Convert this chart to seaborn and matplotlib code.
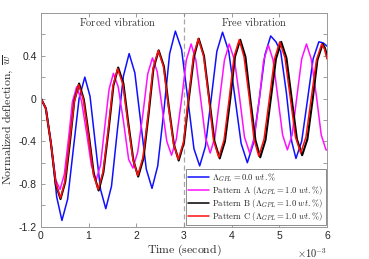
import numpy as np
import pandas as pd
import matplotlib
matplotlib.use("Agg")
import matplotlib.pyplot as plt
import seaborn as sns

# ---- data (time in units of 1e-3 s) ----
t_blue = [0, 0.11, 0.22, 0.33, 0.44, 0.56, 0.68, 0.80, 0.92, 1.03, 1.14, 1.25, 1.36, 1.48, 1.60, 1.73,
          1.85, 1.97, 2.09, 2.21, 2.33, 2.45, 2.58, 2.70, 2.82, 2.95, 3.08, 3.21, 3.33, 3.45, 3.57, 3.69,
          3.81, 3.94, 4.07, 4.20, 4.33, 4.45, 4.58, 4.70, 4.82, 4.93, 5.03, 5.15, 5.26, 5.35, 5.47, 5.59,
          5.71, 5.83, 5.92, 6.00]
w_blue = [0, -0.10, -0.45, -0.92, -1.14, -0.94, -0.47, 0.00, 0.20, 0.02, -0.42, -0.85, -1.03, -0.82, -0.31, 0.21,
          0.42, 0.24, -0.21, -0.66, -0.84, -0.63, -0.11, 0.42, 0.63, 0.46, 0.00, -0.47, -0.63, -0.45, -0.01, 0.44,
          0.62, 0.44, 0.01, -0.42, -0.60, -0.43, -0.01, 0.41, 0.585, 0.53, 0.44, 0.05, -0.40, -0.56, -0.40, -0.02,
          0.37, 0.53, 0.52, 0.49]

t_patA = [0, 0.10, 0.21, 0.31, 0.40, 0.49, 0.58, 0.66, 0.75, 0.85, 0.96, 1.06, 1.16, 1.25, 1.34, 1.43, 1.52,
          1.62, 1.73, 1.84, 1.93, 2.03, 2.14, 2.24, 2.34, 2.44, 2.54, 2.64, 2.74, 2.84, 2.95, 3.05, 3.15,
          3.25, 3.35, 3.45, 3.55, 3.65, 3.75, 3.85, 3.95, 4.06, 4.17, 4.27, 4.38, 4.48, 4.58, 4.67, 4.77,
          4.87, 4.97, 5.07, 5.17, 5.27, 5.37, 5.47, 5.57, 5.67, 5.78, 5.88, 5.98, 6.00]
w_patA = [0, -0.09, -0.42, -0.76, -0.85, -0.71, -0.37, -0.03, 0.11, -0.02, -0.33, -0.63, -0.76, -0.62, -0.26, 0.09, 0.235,
          0.11, -0.21, -0.57, -0.65, -0.50, -0.14, 0.23, 0.38, 0.25, -0.08, -0.40, -0.53, -0.38, -0.01, 0.36, 0.51,
          0.36, 0.00, -0.36, -0.51, -0.36, 0.00, 0.36, 0.51, 0.36, 0.00, -0.36, -0.51, -0.36, -0.01, 0.35, 0.50,
          0.36, 0.01, -0.34, -0.48, -0.34, 0.02, 0.37, 0.51, 0.37, 0.02, -0.34, -0.48, -0.48]

t_patB = [0, 0.10, 0.21, 0.31, 0.41, 0.51, 0.61, 0.70, 0.80, 0.90, 1.01, 1.11, 1.21, 1.31, 1.42, 1.52, 1.62,
          1.73, 1.83, 1.94, 2.04, 2.15, 2.26, 2.36, 2.47, 2.58, 2.68, 2.79, 2.89, 3.00, 3.10, 3.21, 3.31,
          3.42, 3.53, 3.64, 3.75, 3.86, 3.97, 4.07, 4.18, 4.29, 4.39, 4.50, 4.60, 4.71, 4.82, 4.93, 5.04,
          5.15, 5.26, 5.37, 5.48, 5.59, 5.70, 5.80, 5.91, 5.96, 6.00]
w_patB = [0, -0.09, -0.42, -0.80, -0.94, -0.78, -0.40, -0.02, 0.14, -0.01, -0.36, -0.71, -0.86, -0.69, -0.29, 0.12, 0.29,
          0.14, -0.22, -0.58, -0.73, -0.56, -0.14, 0.28, 0.45, 0.30, -0.07, -0.43, -0.58, -0.41, -0.01, 0.39, 0.56,
          0.40, 0.00, -0.40, -0.56, -0.40, -0.01, 0.39, 0.55, 0.39, 0.00, -0.39, -0.55, -0.39, -0.01, 0.37, 0.53,
          0.38, 0.00, -0.38, -0.53, -0.38, -0.01, 0.36, 0.51, 0.47, 0.40]

t_patC = [0, 0.10, 0.21, 0.31, 0.41, 0.50, 0.60, 0.70, 0.79, 0.89, 1.00, 1.10, 1.20, 1.30, 1.41, 1.51, 1.61,
          1.72, 1.82, 1.93, 2.03, 2.14, 2.25, 2.35, 2.46, 2.57, 2.67, 2.78, 2.88, 2.99, 3.09, 3.20, 3.30,
          3.41, 3.52, 3.62, 3.73, 3.84, 3.95, 4.05, 4.16, 4.26, 4.37, 4.47, 4.57, 4.68, 4.79, 4.90, 5.01,
          5.12, 5.23, 5.34, 5.45, 5.56, 5.67, 5.78, 5.89, 5.95, 6.00]
w_patC = [0, -0.09, -0.42, -0.79, -0.93, -0.78, -0.40, -0.03, 0.13, -0.01, -0.36, -0.71, -0.85, -0.69, -0.29, 0.12, 0.28,
          0.13, -0.22, -0.57, -0.72, -0.55, -0.14, 0.28, 0.45, 0.30, -0.06, -0.42, -0.57, -0.41, -0.01, 0.40, 0.56,
          0.40, 0.01, -0.39, -0.55, -0.39, 0.00, 0.39, 0.55, 0.39, 0.01, -0.38, -0.54, -0.38, -0.01, 0.37, 0.53,
          0.38, 0.01, -0.36, -0.51, -0.36, 0.00, 0.36, 0.51, 0.46, 0.37]

labels = [r'$\Lambda_{GPL}=0.0\ wt.\%$',
          r'$\mathrm{Pattern\ A}\ (\Lambda_{GPL}=1.0\ wt.\%)$',
          r'$\mathrm{Pattern\ B}\ (\Lambda_{GPL}=1.0\ wt.\%)$',
          r'$\mathrm{Pattern\ C}\ (\Lambda_{GPL}=1.0\ wt.\%)$']
x_ticks = [0, 1, 2, 3, 4, 5, 6]
y_ticks = [-1.2, -1.0, -0.8, -0.6, -0.4, -0.2, 0, 0.2, 0.4, 0.6, 0.8]
y_ticklabels = ['-1.2', '', '-0.8', '', '-0.4', '', '0', '', '0.4', '', '']

# ---- style ----
sns.set_style("ticks")
plt.rcParams['font.family'] = ['Liberation Sans', 'DejaVu Sans']
plt.rcParams['mathtext.fontset'] = 'cm'
plt.rcParams['axes.unicode_minus'] = False

fig = plt.figure(figsize=(3.69, 2.59), dpi=100)
ax = fig.add_axes([0.111, 0.124, 0.775, 0.826])

series = [(t_blue, w_blue, '#1010ff', 1.1),
          (t_patA, w_patA, '#ff10ff', 1.1),
          (t_patB, w_patB, '#000000', 1.5),
          (t_patC, w_patC, '#ff1010', 1.1)]
for (t, w, c, lw), lab in zip(series, labels):
    df = pd.DataFrame({'t': t, 'w': w})
    sns.lineplot(data=df, x='t', y='w', ax=ax, color=c, lw=lw, label=lab,
                 sort=False, estimator=None)

ax.axvline(3, color='0.65', ls=(0, (4, 2.5)), lw=0.9, zorder=0.5)

ax.set_xlim(0, 6)
ax.set_ylim(-1.2, 0.8)
ax.set_xticks(x_ticks)
ax.set_xticklabels([str(v) for v in x_ticks])
ax.set_yticks(y_ticks)
ax.set_yticklabels(y_ticklabels)
ax.tick_params(direction='in', length=3, width=0.6, top=True, right=True,
               labelsize=7.5, color='0.55', labelcolor='0.15', pad=3)
for s in ax.spines.values():
    s.set_color('0.6')
    s.set_linewidth(0.7)

ax.set_xlabel(r'$\mathrm{Time\ (second)}$', fontsize=8.5, color='0.15', labelpad=1)
ax.set_ylabel(r'$\mathrm{Normalized\ deflection,}\ \overline{w}$', fontsize=8.5, color='0.15', labelpad=3)

ax.text(1.60, 0.72, r'$\mathrm{Forced\ vibration}$', ha='center', va='center', fontsize=7.5, color='0.2')
ax.text(4.47, 0.72, r'$\mathrm{Free\ vibration}$', ha='center', va='center', fontsize=7.5, color='0.2')

fig.text(0.886, 0.022, r'$\times10^{-3}$', ha='right', va='center', fontsize=7.5, color='0.15')

leg = ax.legend(loc='lower right', bbox_to_anchor=(0.995, 0.01), fontsize=6.2,
                frameon=True, fancybox=False, edgecolor='0.55', framealpha=1,
                handlelength=2.4, handletextpad=0.4, labelspacing=0.0,
                borderpad=0.25, borderaxespad=0)
leg.get_frame().set_linewidth(0.7)
for line in leg.get_lines():
    line.set_linewidth(1.1)

fig.savefig('out.png', dpi=100)
